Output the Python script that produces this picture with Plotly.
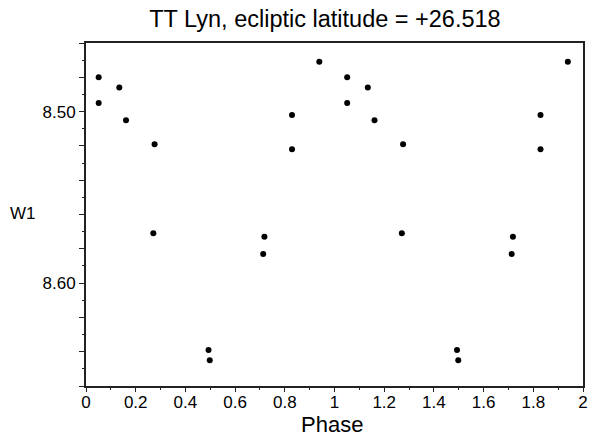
import plotly.graph_objects as go

# Phased photometry (one cycle)
phase = [0.051, 0.051, 0.134, 0.161, 0.276, 0.271, 0.493, 0.498, 0.713, 0.718, 0.829, 0.829, 0.939]
w1 = [8.480, 8.495, 8.486, 8.505, 8.519, 8.571, 8.639, 8.645, 8.583, 8.573, 8.502, 8.522, 8.471]

# plotted over two cycles
x_all = phase + [p + 1 for p in phase]
y_all = w1 + w1

title_text = "TT Lyn, ecliptic latitude = +26.518"
x_ticks = [0, 0.2, 0.4, 0.6, 0.8, 1, 1.2, 1.4, 1.6, 1.8, 2]
x_tick_labels = ["0", "0.2", "0.4", "0.6", "0.8", "1", "1.2", "1.4", "1.6", "1.8", "2"]
y_ticks = [8.46, 8.48, 8.50, 8.52, 8.54, 8.56, 8.58, 8.60, 8.62, 8.64, 8.66]
y_tick_labels = ["", "", "8.50", "", "", "", "", "8.60", "", "", ""]

FONT = "Liberation Sans, Arial, sans-serif"
AX = "#222222"

fig = go.Figure()
fig.add_trace(go.Scatter(x=x_all, y=y_all, mode="markers",
                         marker=dict(color="black", size=6), showlegend=False))

fig.update_layout(
    width=593, height=436,
    margin=dict(l=86, r=5, t=43, b=50),
    paper_bgcolor="white", plot_bgcolor="white",
    font=dict(family=FONT, color="black", size=17),
    title=dict(text=title_text, x=0.548, xanchor="center", y=0.956, yanchor="middle",
               font=dict(size=23.5, family=FONT, color="black")),
    xaxis=dict(range=[0, 2], tickmode="array", tickvals=x_ticks, ticktext=x_tick_labels,
               ticks="outside", ticklen=4, tickwidth=1, tickcolor=AX,
               minor=dict(dtick=0.1, ticks="outside", ticklen=2, tickcolor=AX),
               showline=True, linecolor=AX, linewidth=2, mirror=True,
               showgrid=False, zeroline=False, ticklabelstandoff=-4,
               tickfont=dict(size=17)),
    yaxis=dict(range=[8.66, 8.46], tickmode="array", tickvals=y_ticks, ticktext=y_tick_labels,
               ticks="outside", ticklen=5, tickwidth=1, tickcolor=AX,
               minor=dict(dtick=0.01, tick0=8.46, ticks="outside", ticklen=2, tickcolor=AX),
               showline=True, linecolor=AX, linewidth=2, mirror=True,
               showgrid=False, zeroline=False,
               tickfont=dict(size=17)),
    annotations=[
        dict(text="W1", xref="paper", yref="paper", x=-0.1265, y=0.502,
             xanchor="center", yanchor="middle", showarrow=False,
             font=dict(size=17, family=FONT, color="black")),
        dict(text="Phase", xref="paper", yref="paper", x=0.4945, y=-0.113,
             xanchor="center", yanchor="middle", showarrow=False,
             font=dict(size=22, family=FONT, color="black")),
    ],
)

fig.write_html("out.html")
